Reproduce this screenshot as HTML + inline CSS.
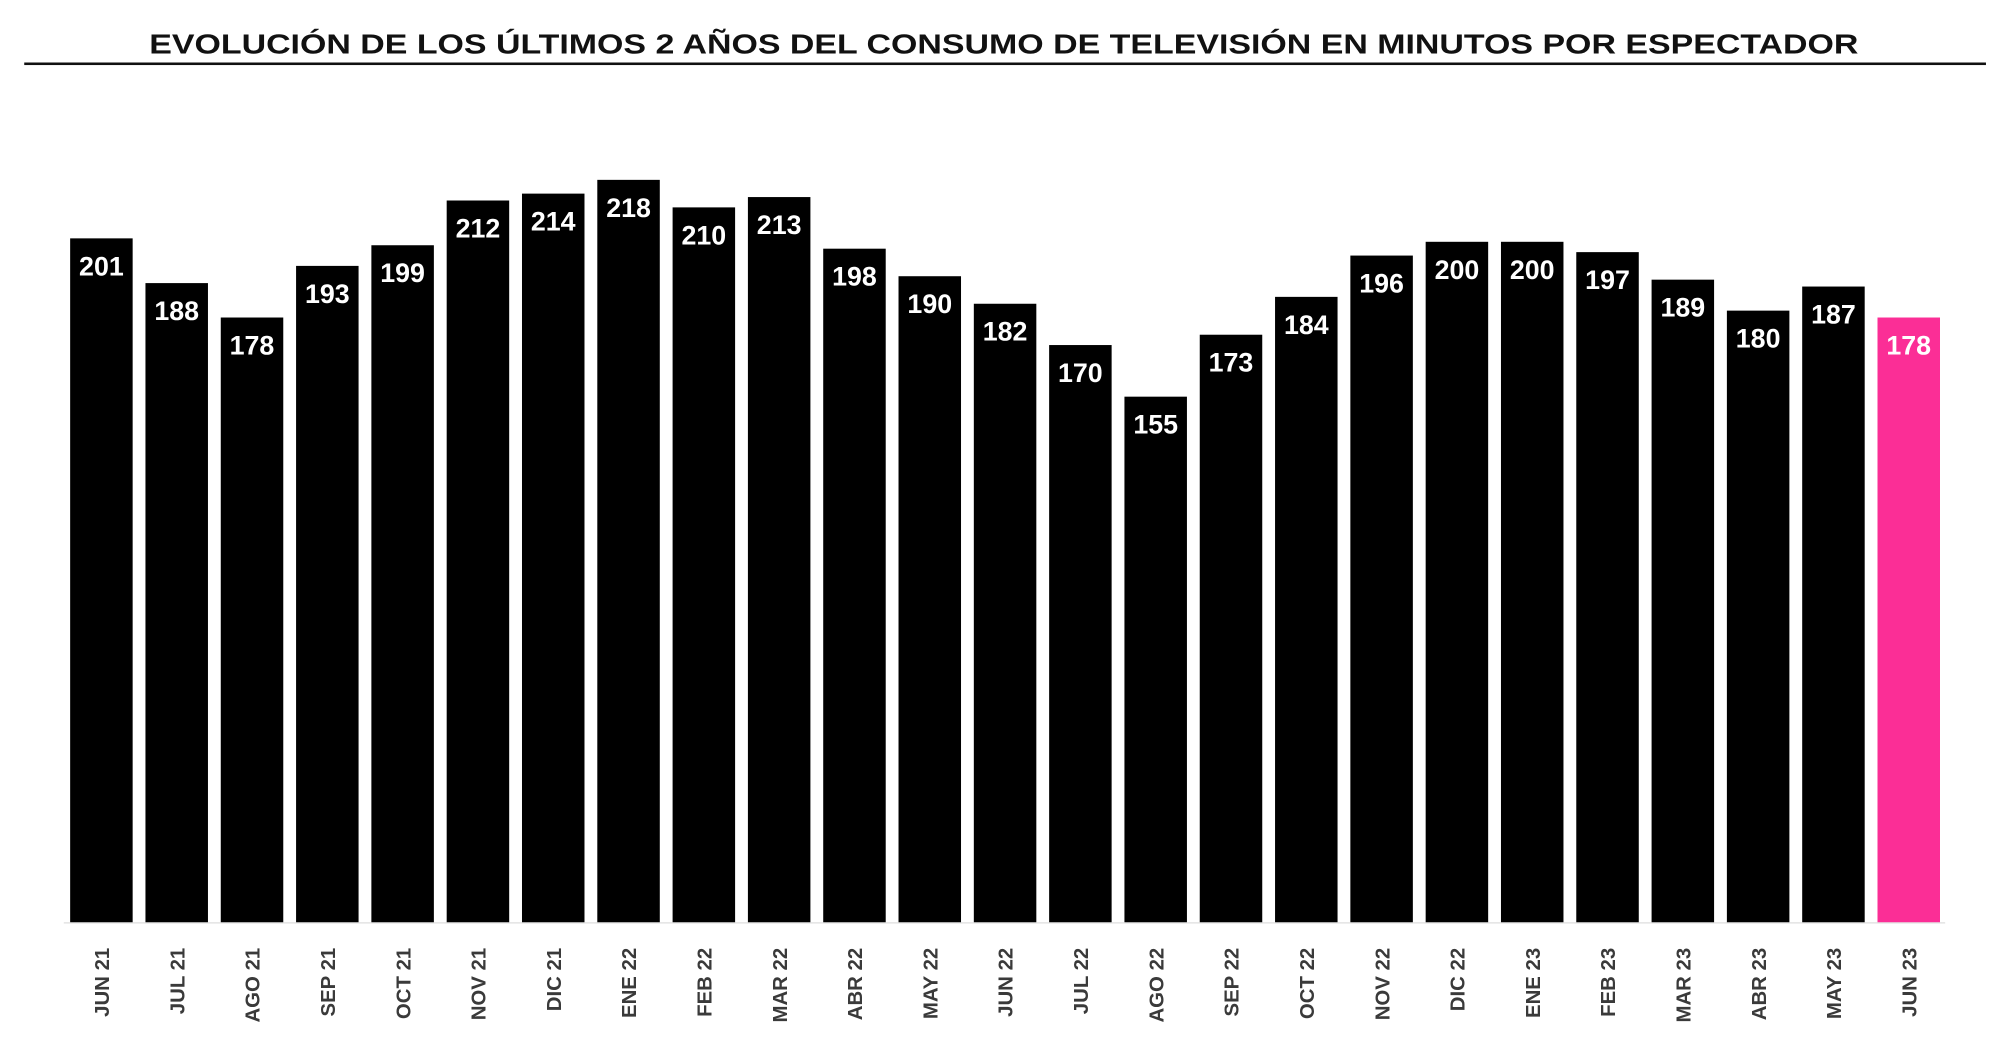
<!DOCTYPE html>
<html><head><meta charset="utf-8"><style>html,body{margin:0;padding:0;background:#fff;width:2000px;height:1060px;overflow:hidden}</style></head>
<body>
<svg width="2000" height="1060" viewBox="0 0 1568 831" preserveAspectRatio="none" xmlns="http://www.w3.org/2000/svg" font-family="Liberation Sans, sans-serif">
<text x="787" y="42" text-anchor="middle" font-size="22" font-weight="bold" fill="#111" textLength="1340" lengthAdjust="spacingAndGlyphs">EVOLUCIÓN DE LOS ÚLTIMOS 2 AÑOS DEL CONSUMO DE TELEVISIÓN EN MINUTOS POR ESPECTADOR</text>
<rect x="19" y="49" width="1538" height="2" fill="#111"/>
<line x1="50" y1="723.5" x2="1525" y2="723.5" stroke="#ddd" stroke-width="1"/>
<g id="bars"></g>
</svg>
<script>
var d=[["JUN 21",201],["JUL 21",188],["AGO 21",178],["SEP 21",193],["OCT 21",199],["NOV 21",212],["DIC 21",214],["ENE 22",218],["FEB 22",210],["MAR 22",213],["ABR 22",198],["MAY 22",190],["JUN 22",182],["JUL 22",170],["AGO 22",155],["SEP 22",173],["OCT 22",184],["NOV 22",196],["DIC 22",200],["ENE 23",200],["FEB 23",197],["MAR 23",189],["ABR 23",180],["MAY 23",187],["JUN 23",178]];
var s="";
d.forEach(function(e,i){
var x=55+i*59.04, t=141+(218-e[1])*2.698, c=x+24.5;
var col=i==24?"#fb2e96":"#000";
s+='<rect x="'+x+'" y="'+t+'" width="49" height="'+(723-t)+'" fill="'+col+'"/>';
s+='<text x="'+c+'" y="'+(t+29)+'" text-anchor="middle" font-size="21" font-weight="bold" fill="#fff">'+e[1]+'</text>';
s+='<text transform="translate('+(c+6)+',743) rotate(-90)" text-anchor="end" font-size="16" font-weight="bold" fill="#3a3a3a">'+e[0]+'</text>';
});
document.getElementById("bars").innerHTML=s;
</script>
</body></html>
